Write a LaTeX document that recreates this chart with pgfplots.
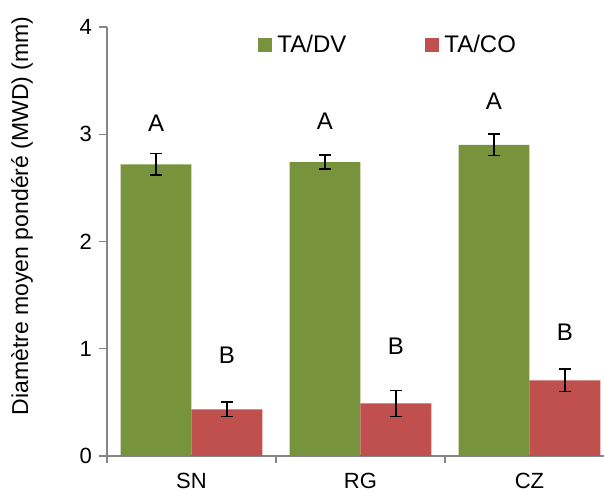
\documentclass[border=0pt]{standalone}
\usepackage{fontspec}
\setmainfont{Liberation Sans}
\usepackage{pgfplots}
\pgfplotsset{compat=1.18}
\definecolor{cgreen}{HTML}{77933C}
\definecolor{cred}{HTML}{C0504D}
\definecolor{axgray}{HTML}{868686}
\pgfplotstableread{
x y err
0 2.72 0.10
1 2.74 0.065
2 2.90 0.10
}\green
\pgfplotstableread{
x y err
0 0.435 0.067
1 0.49 0.12
2 0.705 0.105
}\red
\begin{document}
\begin{tikzpicture}
\begin{axis}[
  at={(0,0)}, anchor=south west,
  scale only axis, width=248.5pt, height=214.5pt,
  xmin=-0.5, xmax=2.441, ymin=0, ymax=4,
  axis x line=bottom, axis y line=left,
  axis line style={draw=axgray, line width=0.6pt, -},
  ytick={0,1,2,3,4},
  xtick={0,1,2}, xticklabels={SN,RG,CZ},
  major x tick style={draw=none},
  minor xtick={-0.5,0.5,1.5},
  tick align=outside, major tick length=4pt, minor tick length=3.5pt,
  tick style={axgray, line width=0.6pt},
  every tick label/.append style={font=\fontsize{11}{13}\selectfont, black},
  xticklabel style={inner ysep=1pt, yshift=-3.2pt},
  /pgf/number format/assume math mode=true,
  ylabel={Diamètre moyen pondéré (MWD) (mm)},
  ylabel style={font=\fontsize{11.5}{13}\selectfont, at={(axis description cs:-0.171,0.56)}, anchor=center},
  ybar, bar width=0.42,
  legend style={draw=none, fill=none, at={(axis description cs:0.304,0.958)}, anchor=west,
    legend columns=2, font=\fontsize{12}{14}\selectfont, inner sep=0pt,
    nodes={inner xsep=2.5pt, inner ysep=0pt},
    /tikz/every even column/.append style={column sep=37pt}},
]
\addplot[fill=cgreen, draw=none, bar shift=-0.21,
  legend image code/.code={\fill[cgreen] (0pt,-3.5pt) rectangle (7pt,3.5pt);},
  error bars/.cd, y dir=both, y explicit,
  error bar style={black, line width=0.75pt},
  error mark options={rotate=90, mark size=3.2pt, line width=0.75pt, black}]
  table[x=x, y=y, y error=err]{\green};
\addlegendentry{TA/DV}
\addplot[fill=cred, draw=none, bar shift=0.21,
  legend image code/.code={\fill[cred] (0pt,-3.5pt) rectangle (7pt,3.5pt);},
  error bars/.cd, y dir=both, y explicit,
  error bar style={black, line width=0.75pt},
  error mark options={rotate=90, mark size=3.2pt, line width=0.75pt, black}]
  table[x=x, y=y, y error=err]{\red};
\addlegendentry{TA/CO}
\node[font=\fontsize{12}{14}\selectfont] at (axis cs:-0.21,3.10) {A};
\node[font=\fontsize{12}{14}\selectfont] at (axis cs:0.79,3.12) {A};
\node[font=\fontsize{12}{14}\selectfont] at (axis cs:1.79,3.31) {A};
\node[font=\fontsize{12}{14}\selectfont] at (axis cs:0.21,0.944) {B};
\node[font=\fontsize{12}{14}\selectfont] at (axis cs:1.21,1.025) {B};
\node[font=\fontsize{12}{14}\selectfont] at (axis cs:2.21,1.156) {B};
\end{axis}
\pgfresetboundingbox
\useasboundingbox (-53.5pt,-17.5pt) rectangle (248.5pt,228pt);
\end{tikzpicture}
\end{document}
